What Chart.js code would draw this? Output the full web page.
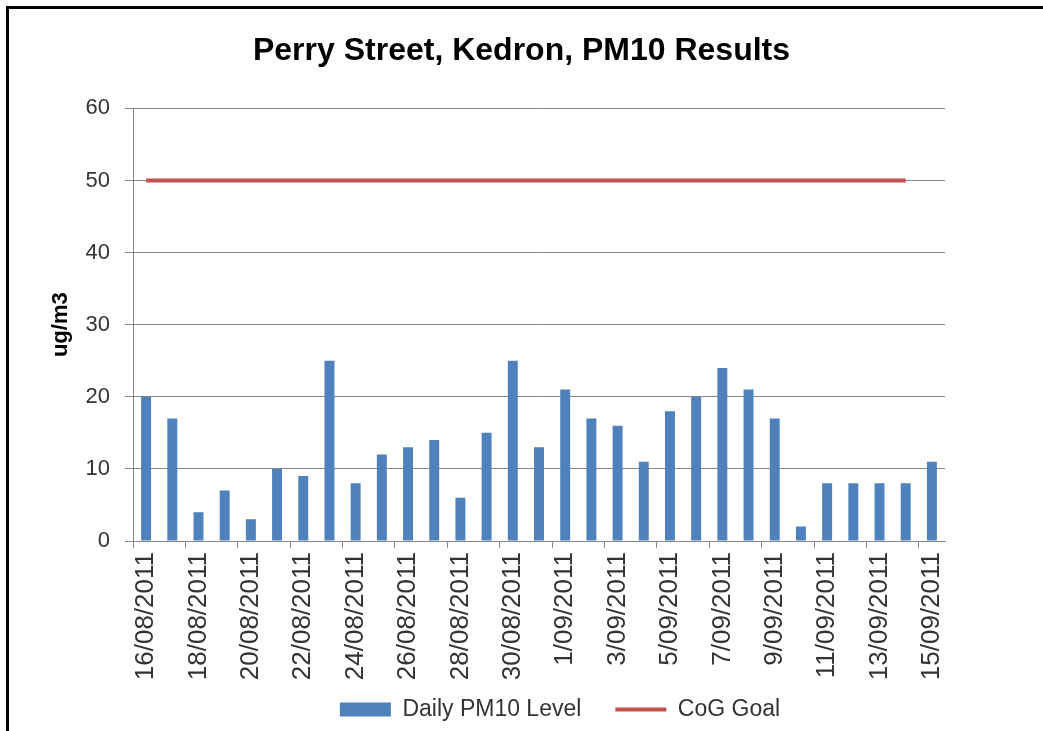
<!DOCTYPE html>
<html>
<head>
<meta charset="utf-8">
<script src="https://cdn.jsdelivr.net/npm/chart.js@4"></script>
<style>
  html, body { margin: 0; background: #fff; overflow: hidden; }
  #wrap { position: relative; width: 1043px; height: 731px; }
  #chart { display: block; }
  #frame {
    position: absolute; left: 6px; top: 6px; right: 0; bottom: 0;
    border-left: 3px solid #000; border-top: 3px solid #000;
    pointer-events: none;
  }
</style>
</head>
<body>
<div id="wrap">
  <canvas id="chart" width="1043" height="731"></canvas>
  <div id="frame"></div>
</div>
<script>
// dates on the x axis
var days = ['16/08/2011', '17/08/2011', '18/08/2011', '19/08/2011', '20/08/2011', '21/08/2011',
    '22/08/2011', '23/08/2011', '24/08/2011', '25/08/2011', '26/08/2011', '27/08/2011',
    '28/08/2011', '29/08/2011', '30/08/2011', '31/08/2011', '1/09/2011', '2/09/2011',
    '3/09/2011', '4/09/2011', '5/09/2011', '6/09/2011', '7/09/2011', '8/09/2011',
    '9/09/2011', '10/09/2011', '11/09/2011', '12/09/2011', '13/09/2011', '14/09/2011',
    '15/09/2011'];

// daily PM10 readings, ug/m3
var pm10 = [20, 17, 4, 7, 3, 10, 9, 25, 8, 12, 13, 14, 6, 15, 25, 13,
    21, 17, 16, 11, 18, 20, 24, 21, 17, 2, 8, 8, 8, 8, 11];

// goal line (stops one day short)
var goal = [50, 50, 50, 50, 50, 50, 50, 50, 50, 50, 50, 50, 50, 50, 50, 50,
    50, 50, 50, 50, 50, 50, 50, 50, 50, 50, 50, 50, 50, 50, null];

var yTicks = [0, 10, 20, 30, 40, 50, 60];

var gridGrey = '#888888';
var textCol = '#333333';

// the rotated date labels run into the legend's padding, so let the x axis
// keep its labels unclipped and nudge the legend to the right a bit
var bottomFix = {
    id: 'bottomFix',
    afterLayout: function(chart) {
        chart.scales.x.bottom = chart.height;
        chart.legend.left += 21;
        chart.legend.right += 21;
    }
};

var ctx = document.getElementById('chart');

var myChart = new Chart(ctx, {
    type: 'bar',
    data: {
        labels: days,
        datasets: [{
            label: 'Daily PM10 Level',
            data: pm10,
            backgroundColor: '#4F81BD',
            borderWidth: 0,
            pointStyle: 'rect',
            barPercentage: 0.38,
            categoryPercentage: 1,
            order: 2
        }, {
            type: 'line',
            label: 'CoG Goal',
            data: goal,
            borderColor: '#C0504D',
            backgroundColor: '#C0504D',
            borderWidth: 4,
            pointRadius: 0,
            pointStyle: 'line',
            spanGaps: false,
            order: 1
        }]
    },
    plugins: [bottomFix],
    options: {
        responsive: false,
        animation: false,
        layout: {
            padding: { left: 40, right: 40, top: 20, bottom: 0 }
        },
        plugins: {
            title: {
                display: true,
                text: 'Perry Street, Kedron, PM10 Results',
                color: '#000',
                font: { family: 'Liberation Sans', size: 32, weight: 'bold' },
                padding: { top: 12, bottom: 38 }
            },
            legend: {
                position: 'bottom',
                fullSize: false,
                labels: {
                    usePointStyle: true,
                    pointStyleWidth: 51,
                    boxHeight: 14,
                    color: textCol,
                    padding: 34,
                    font: { family: 'Liberation Sans', size: 23 },
                    sort: (a, b) => a.datasetIndex - b.datasetIndex
                }
            },
            tooltip: { enabled: false }
        },
        scales: {
            x: {
                offset: true,
                grid: {
                    offset: true,
                    drawOnChartArea: false,
                    drawTicks: true,
                    tickLength: 7,
                    color: function(c) {
                        if (c.index === undefined) return 'rgba(0,0,0,0)';
                        return c.index % 2 === 0 ? gridGrey : 'rgba(0,0,0,0)';
                    }
                },
                border: { color: gridGrey, width: 1 },
                ticks: {
                    autoSkip: false,
                    minRotation: 90,
                    maxRotation: 90,
                    padding: 4,
                    color: textCol,
                    font: { family: 'Liberation Sans', size: 26 },
                    callback: function(val, i) {
                        return i % 2 === 0 ? this.getLabelForValue(val) : '';
                    }
                },
                afterFit: function(scale) {
                    scale.height = 123;
                }
            },
            y: {
                min: 0,
                max: 60,
                afterBuildTicks: function(scale) {
                    scale.ticks = yTicks.map(v => ({ value: v }));
                },
                grid: {
                    color: gridGrey,
                    tickLength: 8
                },
                border: { color: gridGrey, width: 1 },
                ticks: {
                    padding: 15,
                    color: textCol,
                    font: { family: 'Liberation Sans', size: 22 }
                },
                title: {
                    display: true,
                    text: 'ug/m3',
                    color: '#000',
                    font: { family: 'Liberation Sans', size: 22, weight: 'bold' },
                    padding: { top: 8, bottom: 0 }
                },
                afterFit: function(scale) {
                    scale.width = 93;
                }
            },
            // empty axis on the right, only keeps the plot's right edge in place
            spacer: {
                type: 'linear',
                position: 'right',
                grid: { display: false },
                border: { display: false },
                ticks: { display: false },
                afterFit: function(scale) {
                    scale.width = 58;
                }
            }
        }
    }
});
</script>
</body>
</html>
